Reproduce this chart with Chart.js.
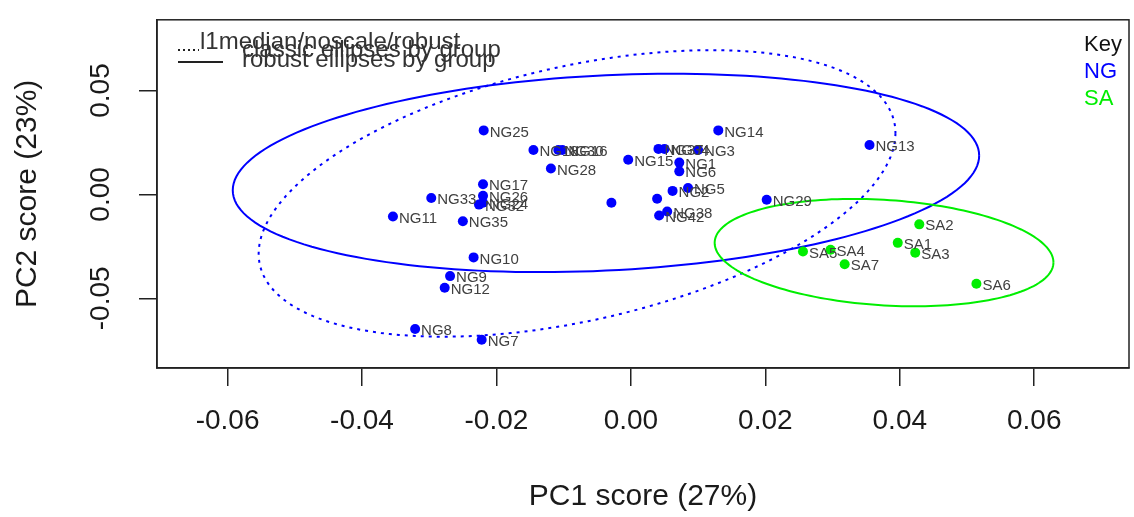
<!DOCTYPE html>
<html>
<head>
<meta charset="utf-8">
<script src="https://cdn.jsdelivr.net/npm/chart.js@4/dist/chart.umd.min.js"></script>
<style>
  html, body { margin: 0; padding: 0; background: #fff; }
  #wrap { width: 1134px; height: 517px; }
</style>
</head>
<body>
<div id="wrap"><canvas id="pca" width="1134" height="517"></canvas></div>
<script>
// PCA scores
const ngLabels = ['NG25','NG18','NG30','NG16','NG28','NG15','NG37','NG34','NG3','NG14','NG13',
  'NG1','NG6','NG5','NG2','','','NG38','NG42','NG29','NG17','NG26','NG32','NG24','NG33',
  'NG11','NG35','NG10','NG9','NG12','NG8','NG7'];
const ngX = [-0.0219,-0.0145,-0.0108,-0.0102,-0.0119,-0.0004,0.0041,0.0050,0.0100,0.0130,0.0355,
  0.0072,0.0072,0.0085,0.0062,0.0039,-0.0029,0.0054,0.0042,0.0202,-0.0220,-0.0220,-0.0226,-0.0220,-0.0297,
  -0.0354,-0.0250,-0.0234,-0.0269,-0.0277,-0.0321,-0.0222];
const ngY = [0.0308,0.0214,0.0214,0.0214,0.0125,0.0167,0.0219,0.0219,0.0214,0.0308,0.0238,
  0.0153,0.0111,0.0031,0.0017,-0.0021,-0.0040,-0.0082,-0.0101,-0.0026,0.0049,-0.0007,-0.0049,-0.0040,-0.0017,
  -0.0106,-0.0129,-0.0303,-0.0393,-0.0449,-0.0647,-0.0699];

const saLabels = ['SA2','SA1','SA3','SA5','SA4','SA7','SA6'];
const saX = [0.0429,0.0397,0.0423,0.0256,0.0297,0.0318,0.0514];
const saY = [-0.0144,-0.0233,-0.0280,-0.0275,-0.0266,-0.0336,-0.0430];

// ellipses: centre + two half-axis vectors, in data units
const ngRobustEllipse  = [-0.00371, 0.01035, 0.05552, 0.00834, 0, -0.04699];
const ngClassicEllipse = [-0.00801, 0.00047, 0.04737, 0.02902, 0, -0.06251];
const saRobustEllipse  = [0.03766, -0.02799, 0.0252, -0.0047, 0, -0.0254];

const xTicks = [-0.06, -0.04, -0.02, 0, 0.02, 0.04, 0.06];
const yTicks = [-0.05, 0, 0.05];

const FONT = '"Liberation Sans", Arial, sans-serif';
const BLUE = '#0000ff';
const GREEN = '#00ee00';

const ellipses = [
  { e: ngRobustEllipse, color: BLUE, dash: [] },
  { e: ngClassicEllipse, color: BLUE, dash: [3, 5] },
  { e: saRobustEllipse, color: GREEN, dash: [] },
];

const ellipsePlugin = {
  id: 'ellipses',
  beforeDatasetsDraw(chart) {
    const { ctx, chartArea: a, scales: { x, y } } = chart;
    ctx.save();
    ctx.beginPath();
    ctx.rect(a.left, a.top, a.right - a.left, a.bottom - a.top);
    ctx.clip();
    ellipses.forEach(({ e, color, dash }) => {
      const [cx, cy, ux, uy, vx, vy] = e;
      ctx.beginPath();
      for (let i = 0; i <= 180; i++) {
        const t = i / 180 * Math.PI * 2;
        const px = x.getPixelForValue(cx + ux * Math.cos(t) + vx * Math.sin(t));
        const py = y.getPixelForValue(cy + uy * Math.cos(t) + vy * Math.sin(t));
        i ? ctx.lineTo(px, py) : ctx.moveTo(px, py);
      }
      ctx.strokeStyle = color;
      ctx.lineWidth = 2;
      ctx.setLineDash(dash);
      ctx.stroke();
    });
    ctx.restore();
  }
};

const labelPlugin = {
  id: 'labels',
  afterDatasetsDraw(chart) {
    const { ctx, scales: { x, y } } = chart;
    ctx.save();
    ctx.font = '15px ' + FONT;
    ctx.fillStyle = '#404040';
    ctx.textBaseline = 'middle';
    ctx.textAlign = 'left';
    const put = (xs, ys, ls) => xs.forEach((v, i) => {
      if (!ls[i]) return;
      ctx.fillText(ls[i], x.getPixelForValue(v) + 6, y.getPixelForValue(ys[i]) + 2);
    });
    put(ngX, ngY, ngLabels);
    put(saX, saY, saLabels);
    ctx.restore();
  }
};

const framePlugin = {
  id: 'frame',
  afterDraw(chart) {
    const { ctx, chartArea: a, scales: { y } } = chart;
    ctx.save();
    // plot box
    ctx.strokeStyle = '#222';
    ctx.lineWidth = 1.5;
    ctx.strokeRect(a.left, a.top, a.right - a.left, a.bottom - a.top);

    // y tick labels + title, rotated like R
    ctx.fillStyle = '#1a1a1a';
    ctx.textAlign = 'center';
    ctx.textBaseline = 'middle';
    ctx.font = '28px ' + FONT;
    yTicks.forEach(v => {
      ctx.save();
      ctx.translate(101, y.getPixelForValue(v));
      ctx.rotate(-Math.PI / 2);
      ctx.fillText(v.toFixed(2), 0, 0);
      ctx.restore();
    });
    ctx.save();
    ctx.font = '30px ' + FONT;
    ctx.translate(28, (a.top + a.bottom) / 2);
    ctx.rotate(-Math.PI / 2);
    ctx.fillText('PC2 score (23%)', 0, 0);
    ctx.restore();

    // line-type legend (top left, texts overlap as in original)
    ctx.strokeStyle = '#222';
    ctx.lineWidth = 2;
    ctx.setLineDash([2, 3]);
    ctx.beginPath(); ctx.moveTo(178, 50); ctx.lineTo(199, 50); ctx.stroke();
    ctx.setLineDash([]);
    ctx.beginPath(); ctx.moveTo(178, 62); ctx.lineTo(223, 62); ctx.stroke();
    ctx.font = '24px ' + FONT;
    ctx.textAlign = 'left';
    ctx.textBaseline = 'alphabetic';
    ctx.fillStyle = '#333';
    ctx.fillText('l1median/noscale/robust', 200, 49);
    ctx.fillText('classic ellipses by group', 242, 57);
    ctx.fillText('robust ellipses by group', 242, 67);

    // group key (top right)
    ctx.font = '22px ' + FONT;
    ctx.fillStyle = '#111';
    ctx.fillText('Key', 1084, 51);
    ctx.fillStyle = BLUE;
    ctx.fillText('NG', 1084, 78);
    ctx.fillStyle = GREEN;
    ctx.fillText('SA', 1084, 105);
    ctx.restore();
  }
};

new Chart(document.getElementById('pca'), {
  type: 'scatter',
  data: {
    datasets: [
      { label: 'NG', data: ngX.map((v, i) => ({ x: v, y: ngY[i] })),
        backgroundColor: BLUE, borderWidth: 0, pointRadius: 5 },
      { label: 'SA', data: saX.map((v, i) => ({ x: v, y: saY[i] })),
        backgroundColor: GREEN, borderWidth: 0, pointRadius: 5 },
    ]
  },
  options: {
    responsive: false,
    animation: false,
    layout: { padding: { top: 12, right: 2, left: 0, bottom: 0 } },
    plugins: { legend: { display: false }, tooltip: { enabled: false } },
    scales: {
      x: {
        min: -0.0705, max: 0.0741,
        afterBuildTicks: s => { s.ticks = xTicks.map(v => ({ value: v })); },
        afterFit: s => { s.height = 149; },
        grid: { drawOnChartArea: false, drawTicks: true, tickLength: 18, color: '#222', lineWidth: 1.5 },
        border: { display: true, color: '#222', width: 1.5 },
        ticks: { color: '#1a1a1a', font: { family: FONT, size: 28 }, padding: 18,
                 maxRotation: 0, callback: v => v.toFixed(2) },
        title: { display: true, text: 'PC1 score (27%)', color: '#1a1a1a',
                 font: { family: FONT, size: 30 }, padding: { top: 0, bottom: 2 } }
      },
      y: {
        min: -0.0835, max: 0.0840,
        afterBuildTicks: s => { s.ticks = yTicks.map(v => ({ value: v })); },
        afterFit: s => { s.width = 157; },
        grid: { drawOnChartArea: false, drawTicks: true, tickLength: 18, color: '#222', lineWidth: 1.5 },
        border: { display: true, color: '#222', width: 1.5 },
        ticks: { color: 'rgba(0,0,0,0)', font: { family: FONT, size: 28 } }
      }
    }
  },
  plugins: [ellipsePlugin, labelPlugin, framePlugin]
});
</script>
</body>
</html>
